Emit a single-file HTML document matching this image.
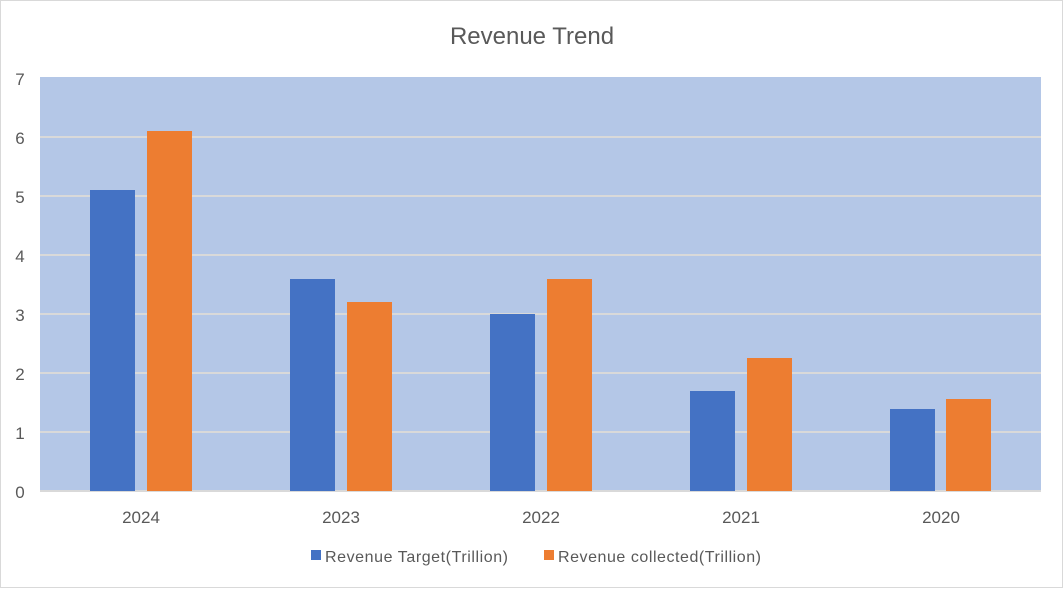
<!DOCTYPE html>
<html><head><meta charset="utf-8"><style>
html,body{margin:0;padding:0;background:#fff;}
svg{display:block;font-family:"Liberation Sans",sans-serif;}
</style></head><body>
<svg width="1064" height="589" viewBox="0 0 1064 589">
<rect x="0.5" y="0.5" width="1062" height="587" fill="#fff" stroke="#d9d9d9"/>
<text x="532" y="44" text-anchor="middle" font-size="24" fill="#595959">Revenue Trend</text>
<rect x="40" y="77" width="1001" height="414" fill="#b4c7e7"/>
<g stroke="#d9d9d9" stroke-width="2">
<line x1="40" x2="1041" y1="137" y2="137"/>
<line x1="40" x2="1041" y1="196" y2="196"/>
<line x1="40" x2="1041" y1="255" y2="255"/>
<line x1="40" x2="1041" y1="314" y2="314"/>
<line x1="40" x2="1041" y1="373" y2="373"/>
<line x1="40" x2="1041" y1="432" y2="432"/>
<line x1="40" x2="1041" y1="491" y2="491"/>
</g>
<g fill="#4472c4">
<rect x="90" y="190" width="45" height="301"/>
<rect x="290" y="279" width="45" height="212"/>
<rect x="490" y="314" width="45" height="177"/>
<rect x="690" y="391" width="45" height="100"/>
<rect x="890" y="409" width="45" height="82"/>
</g>
<g fill="#ed7d31">
<rect x="147" y="131" width="45" height="360"/>
<rect x="347" y="302" width="45" height="189"/>
<rect x="547" y="279" width="45" height="212"/>
<rect x="747" y="358" width="45" height="133"/>
<rect x="946" y="399" width="45" height="92"/>
</g>
<g font-size="17" fill="#595959" text-anchor="middle">
<text x="20" y="85">7</text><text x="20" y="144">6</text><text x="20" y="203">5</text>
<text x="20" y="262">4</text><text x="20" y="321">3</text><text x="20" y="380">2</text>
<text x="20" y="439">1</text><text x="20" y="498">0</text>
<text x="141" y="523">2024</text><text x="341" y="523">2023</text><text x="541" y="523">2022</text>
<text x="741" y="523">2021</text><text x="941" y="523">2020</text>
</g>
<rect x="311" y="550" width="10" height="10" fill="#4472c4"/>
<text x="325" y="562" font-size="16" fill="#595959" textLength="183">Revenue Target(Trillion)</text>
<rect x="544" y="550" width="10" height="10" fill="#ed7d31"/>
<text x="558" y="562" font-size="16" fill="#595959" textLength="203">Revenue collected(Trillion)</text>
</svg>
</body></html>
